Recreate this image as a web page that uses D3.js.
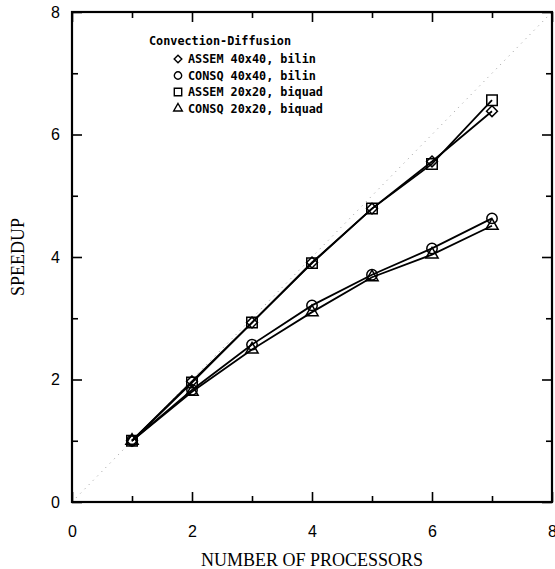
<!DOCTYPE html>
<html>
<head>
<meta charset="utf-8">
<script src="https://cdn.jsdelivr.net/npm/d3@7"></script>
<style>
  html, body { margin: 0; padding: 0; background: #fff; }
  svg { display: block; }
</style>
</head>
<body>
<div id="chart"></div>
<script>
// Speedup vs processors, convection-diffusion runs
const processors = [1, 2, 3, 4, 5, 6, 7];
const assem40 = [1.0, 1.97, 2.93, 3.91, 4.79, 5.56, 6.38];
const consq40 = [1.0, 1.83, 2.57, 3.21, 3.71, 4.14, 4.63];
const assem20 = [1.0, 1.95, 2.93, 3.90, 4.79, 5.52, 6.56];
const consq20 = [1.0, 1.80, 2.49, 3.10, 3.67, 4.04, 4.51];

const seriesNames = ["ASSEM 40x40, bilin", "CONSQ 40x40, bilin", "ASSEM 20x20, biquad", "CONSQ 20x20, biquad"];
const legendTitle = "Convection-Diffusion";
const majorTicks = [0, 2, 4, 6, 8];
const minorTicks = [1, 3, 5, 7];

const W = 555, H = 569;
const plotL = 72, plotR = 552, plotT = 12, plotB = 502;

const svg = d3.select("#chart").append("svg")
  .attr("width", W).attr("height", H)
  .attr("viewBox", `0 0 ${W} ${H}`);

const x = d3.scaleLinear().domain([0, 8]).range([plotL, plotR]);
const y = d3.scaleLinear().domain([0, 8]).range([plotB, plotT]);

const series = [
  { name: seriesNames[0], values: assem40, symbol: d3.symbolDiamond2, size: 75 },
  { name: seriesNames[1], values: consq40, symbol: d3.symbolCircle, size: 85 },
  { name: seriesNames[2], values: assem20, symbol: d3.symbolSquare, size: 110 },
  { name: seriesNames[3], values: consq20, symbol: d3.symbolTriangle, size: 65 },
];

// ideal speedup, dotted diagonal
svg.append("line")
  .attr("x1", x(0)).attr("y1", y(0)).attr("x2", x(8)).attr("y2", y(8))
  .attr("stroke", "#999").attr("stroke-width", 1)
  .attr("stroke-dasharray", "1,5");

// axes with inward ticks on all four sides
const tickFont = "Liberation Sans, Arial, sans-serif";
function styleAxis(sel) {
  sel.select(".domain").remove();
  sel.selectAll("line").attr("stroke", "#000").attr("stroke-width", 1.6);
  sel.selectAll("text").attr("font-family", tickFont).attr("font-size", 16).attr("fill", "#000");
}

svg.append("g").attr("transform", `translate(0,${plotB})`)
  .call(d3.axisBottom(x).tickValues(majorTicks).tickSizeInner(-10).tickSizeOuter(0).tickPadding(24).tickFormat(d3.format("d")))
  .call(styleAxis);
svg.append("g").attr("transform", `translate(0,${plotB})`)
  .call(d3.axisBottom(x).tickValues(minorTicks).tickSize(-6).tickFormat(""))
  .call(styleAxis);
svg.append("g").attr("transform", `translate(0,${plotT})`)
  .call(d3.axisTop(x).tickValues(majorTicks).tickSize(-10).tickFormat(""))
  .call(styleAxis);
svg.append("g").attr("transform", `translate(0,${plotT})`)
  .call(d3.axisTop(x).tickValues(minorTicks).tickSize(-6).tickFormat(""))
  .call(styleAxis);
svg.append("g").attr("transform", `translate(${plotL},0)`)
  .call(d3.axisLeft(y).tickValues(majorTicks).tickSizeInner(-10).tickSizeOuter(0).tickPadding(12).tickFormat(d3.format("d")))
  .call(styleAxis);
svg.append("g").attr("transform", `translate(${plotL},0)`)
  .call(d3.axisLeft(y).tickValues(minorTicks).tickSize(-6).tickFormat(""))
  .call(styleAxis);
svg.append("g").attr("transform", `translate(${plotR},0)`)
  .call(d3.axisRight(y).tickValues(majorTicks).tickSize(-10).tickFormat(""))
  .call(styleAxis);
svg.append("g").attr("transform", `translate(${plotR},0)`)
  .call(d3.axisRight(y).tickValues(minorTicks).tickSize(-6).tickFormat(""))
  .call(styleAxis);

// frame
svg.append("rect")
  .attr("x", plotL).attr("y", plotT)
  .attr("width", plotR - plotL).attr("height", plotB - plotT)
  .attr("fill", "none").attr("stroke", "#000").attr("stroke-width", 2.2);

// series lines and markers
const line = d3.line().x((d, i) => x(processors[i])).y(d => y(d));
series.forEach(s => {
  svg.append("path")
    .datum(s.values)
    .attr("fill", "none").attr("stroke", "#000").attr("stroke-width", 1.8)
    .attr("d", line);
  svg.append("g").selectAll("path")
    .data(s.values)
    .join("path")
    .attr("transform", (d, i) => `translate(${x(processors[i])},${y(d)})`)
    .attr("d", d3.symbol().type(s.symbol).size(s.size))
    .attr("fill", "none").attr("stroke", "#000").attr("stroke-width", 1.5);
});

// legend
const legendFont = "DejaVu Sans Mono, monospace";
const lg = svg.append("g").attr("transform", "translate(149,45)");
lg.append("text")
  .attr("font-family", legendFont).attr("font-weight", "bold").attr("font-size", 11.8)
  .text(legendTitle);
series.forEach((s, i) => {
  const row = lg.append("g").attr("transform", `translate(29,${18 + i * 16.5})`);
  row.append("path")
    .attr("transform", "translate(0,-4)")
    .attr("d", d3.symbol().type(s.symbol).size(s.size * 0.5))
    .attr("fill", "none").attr("stroke", "#000").attr("stroke-width", 1.4);
  row.append("text")
    .attr("x", 10)
    .attr("font-family", legendFont).attr("font-weight", "bold").attr("font-size", 11.8)
    .text(s.name);
});

// axis titles
const titleFont = "Liberation Serif, Times New Roman, serif";
svg.append("text")
  .attr("transform", `translate(24,${(plotT + plotB) / 2}) rotate(-90)`)
  .attr("text-anchor", "middle")
  .attr("font-family", titleFont).attr("font-size", 18)
  .text("SPEEDUP");
svg.append("text")
  .attr("x", (plotL + plotR) / 2).attr("y", 566)
  .attr("text-anchor", "middle")
  .attr("font-family", titleFont).attr("font-size", 18)
  .text("NUMBER OF PROCESSORS");
</script>
</body>
</html>
